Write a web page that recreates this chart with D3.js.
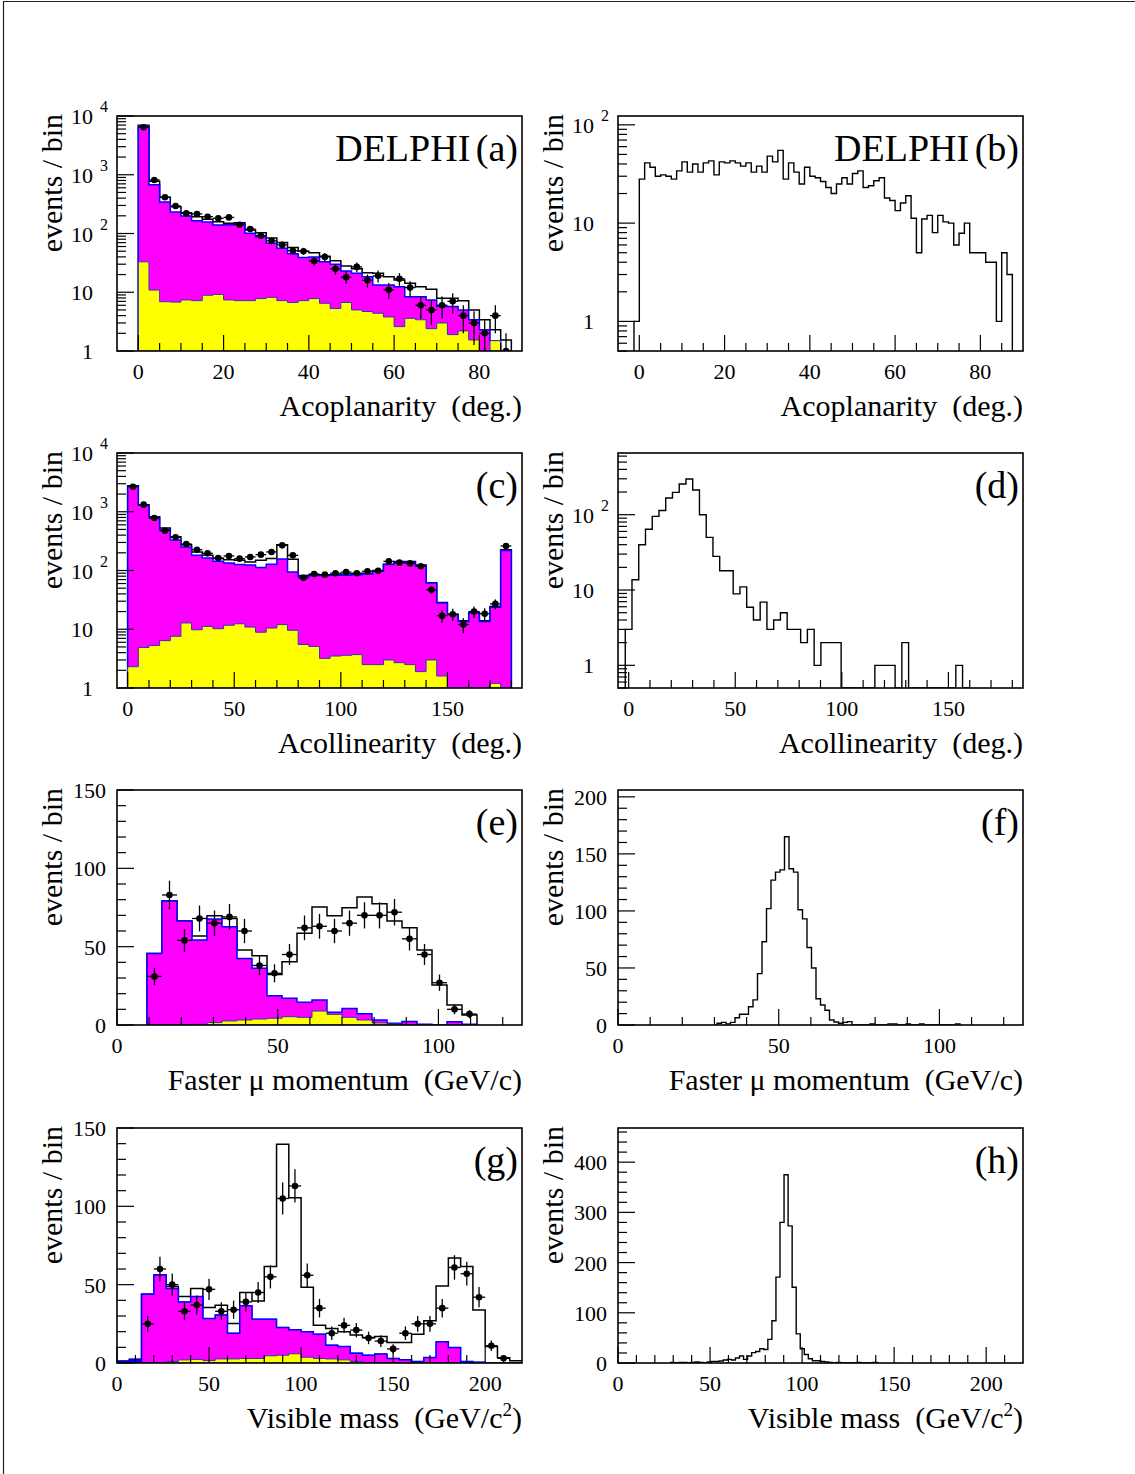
<!DOCTYPE html>
<html><head><meta charset="utf-8">
<script src="https://cdn.jsdelivr.net/npm/d3@7"></script>
<style>
body{margin:0;background:#fff;}
svg{display:block;font-family:"Liberation Serif","Times New Roman",serif;}
text{white-space:pre;}
</style></head><body>
<script>
// ================= DATA =================
// (a) Acoplanarity, 2.5 deg bins from 0
const aBinStart = 0, aBinWidth = 2.5;
const aData    = [6430, 814, 413, 294, 220, 215, 193, 181, 188, 141, 119, 92, 75, 64, 51, 50, 34, 40, 25, 18, 27, 16, 19, 11, 17, 12, 6, 5, 6, 7, 4, 3, 2, 4, 1];
const aTotal   = [6940, 773, 413, 286, 226, 193, 174, 159, 149, 153, 115, 103, 84, 70, 58, 50, 47, 41, 34.5, 28, 25, 21.5, 21, 18.4, 16.2, 14.2, 12.4, 11.2, 7.9, 7.9, 7.2, 5.0, 3.4, 2.3, 1.54];
const aMagenta = [6760, 678, 344, 232, 199, 165, 157, 140, 141, 147, 101, 88, 68, 56, 45, 39, 40, 33, 30, 23, 21, 18.4, 13.3, 13.3, 12.4, 8.4, 8.4, 7.4, 5.7, 5.7, 5.0, 3.4, 2.3, 1.5, 0];
const aYellow  = [33, 10.9, 6.9, 6.8, 7.4, 7.2, 8.9, 9.2, 7.4, 7.2, 7.2, 7.8, 8.2, 7.2, 6.7, 7.2, 7.8, 6.5, 5.3, 6.7, 5.0, 4.7, 4.4, 3.8, 2.6, 3.6, 3.4, 2.4, 3.0, 1.9, 2.2, 1.54, 1.0, 1.5, 0];
// (b) Acoplanarity, signal simulation, 1.25 deg bins from -1.25
const bBinStart = -1.25, bBinWidth = 1.25;
const bSignal = [1, 28, 41, 37, 30, 31, 30, 28, 34, 42, 33, 40, 33, 41, 43, 31, 42, 41, 43, 41, 38, 41, 33, 38, 33, 48, 42, 55, 28, 41, 33, 25, 37, 30, 29, 26.5, 23, 20, 25, 29, 25, 32, 34, 23, 24, 27, 29, 18, 17, 13.4, 16, 19, 11.2, 5, 11, 12, 8, 12, 10.3, 10, 6, 7.9, 10, 5, 5, 5, 4, 4, 1, 5, 3];
// (c) Acollinearity, 5 deg bins from 0
const cBinStart = 0, cBinWidth = 5;
const cData    = [2670, 1320, 783, 476, 367, 283, 226, 196, 163, 177, 159, 170, 186, 207, 268, 181, 75, 87, 85, 90, 94, 90, 97, 99, 143, 136, 132, 118, 47, 17, 18, 12, 20, 18.4, 27, 261];
const cTotal   = [2780, 1320, 820, 529, 377, 275, 207, 181, 160, 153, 149, 140, 150, 160, 275, 155, 82, 85, 83, 85, 87, 88, 90, 100, 128, 142, 142, 124, 62, 28.5, 18, 14, 19.5, 14, 24.5, 225];
const cMagenta = [2720, 1290, 800, 500, 330, 252, 181, 163, 143, 134, 126, 124, 113, 128, 157, 94, 79, 82, 82, 83, 83, 85, 87, 97, 126, 140, 140, 122, 61, 28, 17.7, 13.6, 18.9, 13.6, 23.6, 218];
const cYellow  = [2.3, 4.9, 5.3, 6.4, 7.6, 12.8, 9.8, 11.2, 10.2, 11.7, 12.4, 10.9, 8.9, 10.5, 12, 9.6, 5.5, 5.1, 3.2, 3.5, 3.6, 3.7, 2.5, 2.5, 3.0, 2.7, 2.5, 1.9, 3.0, 1.6, 0, 0, 0, 0, 1.2, 0];
// (d) Acollinearity, signal simulation
const dBinStart = -1.6, dBinWidth = 3.165;
const dSignal = [3, 13.7, 40, 64, 95, 114, 167, 198, 256, 298, 213, 100, 50, 28, 18, 18, 8.9, 11, 5.9, 4, 6.9, 3, 4, 5, 3, 3, 2, 3, 1, 2, 2, 2, 0, 0, 0, 0, 0, 1, 1, 1, 0, 2, 0, 0, 0, 0, 0, 0, 0, 1, 0];
// (e) Faster muon momentum, bins of 126/27 GeV starting at bin 2
const eBinWidth = 126 / 27, eBinStart = 2 * 126 / 27;
const eData    = [31, 83, 54, 68, 65, 69, 60, 38, 33, 45, 62, 63, 60, 65, 70, 70, 72, 55, 45, 27, 10, 7];
const eTotal   = [45.7, 79.1, 66.4, 56.8, 69.8, 68, 47.9, 44.2, 32.3, 40.4, 58.5, 75.3, 69.8, 74.9, 81.7, 77.4, 66.4, 62.1, 47.9, 25.5, 12.8, 6.4];
const eMagenta = [45.7, 79.1, 66.4, 54.2, 67.6, 62.7, 42.5, 36.2, 18.7, 17.0, 14.5, 16.0, 8.1, 10.6, 7.2, 3.2, 1.1, 2.3, 0.4, 0, 2, 0.5];
const eYellow  = [0, 0, 0, 0.4, 1.5, 2.6, 3.2, 3.8, 4.3, 5.3, 4.9, 8.9, 6.8, 4.9, 3.2, 1.3, 0.6, 0, 0, 0, 0, 0];
// (f) Faster muon momentum, signal, 1.4 GeV bins starting at bin 22
const fBinWidth = 1.4, fBinStart = 22 * 1.4;
const fSignal = [1.5, 2.3, 1, 2.3, 6.4, 9.4, 9.4, 16, 22, 45, 73, 102, 127, 134, 136, 165, 137, 134, 101, 93, 68, 50, 23, 17.5, 12.9, 4.4, 2.6, 1.5, 2.3, 3, 0, 0, 0, 0, 1, 0, 0, 0, 1, 1, 0, 0, 1, 0, 0, 1, 0, 0, 0, 0, 0, 0, 0, 1];
// (g) Visible mass, 220/33 GeV bins from 0
const gBinStart = 0, gBinWidth = 220 / 33;
const gData    = [null, null, 25, 60, 50, 33, 37, 47, 33, 34, 39, 45, 55, 105, 113, 56, 35, 19, 24, 21, 16, 14, 9, 19, 25, 25, 35, 61, 57, 42, 11, 3, null];
const gTotal   = [1.2, 2.4, 43.9, 56.1, 48.8, 42.4, 47.5, 35.4, 36.9, 25.2, 45, 39.5, 61.6, 139.6, 105.4, 48.4, 24.1, 22, 19.9, 17.8, 16.3, 16.9, 13.1, 13.1, 18.4, 26.9, 49.2, 67.1, 61.6, 33.9, 10.5, 3.3, 1.5];
const gOther   = [1.2, 2.4, 0, 0, 0, 0, 0, 0, 0, 0, 0, 0, 0, 0, 0, 0, 0, 0, 0, 0, 0, 0, 0, 0, 0, 0, 0, 0, 0, 0, 0, 0, 0];
const gMagenta = [0, 0, 43.9, 56.1, 47.5, 39, 42.4, 28.4, 30.7, 19, 36.5, 28, 28, 22.7, 21.2, 19.9, 18.4, 11.4, 10.5, 6.3, 5, 5.8, 2.9, 2, 1, 3.5, 13.5, 9.9, 1, 0.5, 0, 0, 0];
const gYellow  = [0, 0, 0, 0, 1, 2, 2.3, 1.5, 2.6, 2.6, 2.9, 2.9, 4.6, 5, 5.9, 3.7, 2.9, 2.6, 2, 1, 0, 0, 0, 0, 0, 0, 0, 0, 0, 0, 0, 0, 0];
// (h) Visible mass, signal, 2.2 GeV bins starting at bin 13
const hBinWidth = 2.2, hBinStart = 13 * 2.2;
const hSignal = [1, 0, 1, 1, 0, 1, 2, 1, 0, 2, 3.3, 3.3, 4, 6, 7.3, 6, 10, 14, 7.3, 14, 20.6, 23, 28.5, 27, 47, 84, 171, 280, 375, 273, 151, 58, 28.5, 17, 8.6, 4.6, 4.6, 3, 2, 1, 0, 1, 0, 0, 0, 0, 1, 0, 0, 0, 1];

// tick labels
const acopLabels = [0, 20, 40, 60, 80];
const acollLabels = [0, 50, 100, 150];
const momLabels = [0, 50, 100];
const massLabels = [0, 50, 100, 150, 200];
const log4Labels = [[1, "1", ""], [10, "10", ""], [100, "10", "2"], [1000, "10", "3"], [10000, "10", "4"]];
const log2Labels = [[1, "1", ""], [10, "10", ""], [100, "10", "2"]];
const lin150Labels = [0, 50, 100, 150];
const lin200Labels = [0, 50, 100, 150, 200];
const lin400Labels = [0, 100, 200, 300, 400];

// ================= DRAWING =================
const W = 1135, H = 1474;
const svg = d3.select('body').append('svg').attr('width', W).attr('height', H);
svg.append('rect').attr('width', W).attr('height', H).attr('fill', '#fff');
svg.append('path').attr('d', `M3.5,${H}V1.5H${W}`).attr('fill', 'none').attr('stroke', '#222').attr('stroke-width', 1.2);

const PW = 405, PH = 235;
let clipN = 0;

function logMinor(d0, d1) {
  const out = [];
  for (let e = Math.floor(Math.log10(d0)) - 1; e <= Math.ceil(Math.log10(d1)); e++) {
    for (let m = 1; m <= 9; m++) {
      const v = m * Math.pow(10, e);
      if (v >= d0 * 0.999 && v <= d1 * 1.001 && m !== 1) out.push(v);
    }
  }
  return out;
}

function panel(cfg) {
  const x0 = cfg.x0, y0 = cfg.y0, yb = y0 + PH;
  const g = svg.append('g');
  const x = d3.scaleLinear().domain(cfg.xDomain).range([x0, x0 + PW]);
  const y = (cfg.log ? d3.scaleLog() : d3.scaleLinear()).domain(cfg.yDomain).range([yb, y0]).clamp(true);
  const Y = v => (v == null || v <= cfg.yDomain[0]) ? yb : y(v);
  const id = 'clip' + (clipN++);
  svg.append('clipPath').attr('id', id).append('rect').attr('x', x0).attr('y', y0).attr('width', PW).attr('height', PH);
  const plot = g.append('g').attr('clip-path', `url(#${id})`);

  function stepD(vals, start, width) {
    let d = `M${x(start)},${yb}`;
    vals.forEach((v, i) => {
      d += `L${x(start + i * width)},${Y(v)}L${x(start + (i + 1) * width)},${Y(v)}`;
    });
    d += `L${x(start + vals.length * width)},${yb}`;
    return d;
  }

  const h = cfg.hist;
  if (h.total) {
    plot.append('path').attr('d', stepD(h.total, h.start, h.width)).attr('fill', 'none').attr('stroke', '#000').attr('stroke-width', 1.5);
  }
  if (h.other) {
    const cum = h.magenta.map((v, i) => v + h.other[i]);
    plot.append('path').attr('d', stepD(cum, h.start, h.width) + 'Z').attr('fill', '#0000ff').attr('stroke', '#0000ff').attr('stroke-width', 1);
  }
  if (h.magenta) {
    plot.append('path').attr('d', stepD(h.magenta, h.start, h.width) + 'Z').attr('fill', '#ff00ff').attr('stroke', '#0000ff').attr('stroke-width', 1.5);
  }
  if (h.yellow) {
    plot.append('path').attr('d', stepD(h.yellow, h.start, h.width) + 'Z').attr('fill', '#ffff00').attr('stroke', '#3030c0').attr('stroke-width', 1);
  }
  if (h.signal) {
    plot.append('path').attr('d', stepD(h.signal, h.start, h.width)).attr('fill', 'none').attr('stroke', '#000').attr('stroke-width', 1.4);
  }
  if (h.data) {
    const pts = h.data.map((v, i) => ({ v, i })).filter(p => p.v != null && p.v > 0);
    const dg = plot.append('g');
    pts.forEach(p => {
      const xa = x(h.start + p.i * h.width), xbb = x(h.start + (p.i + 1) * h.width), xc = (xa + xbb) / 2;
      const e = Math.sqrt(p.v);
      dg.append('line').attr('x1', xc).attr('x2', xc).attr('y1', Y(p.v - e)).attr('y2', Y(p.v + e)).attr('stroke', '#000').attr('stroke-width', 1.3);
      dg.append('line').attr('x1', xa).attr('x2', xbb).attr('y1', Y(p.v)).attr('y2', Y(p.v)).attr('stroke', '#000').attr('stroke-width', 1.3);
      dg.append('circle').attr('cx', xc).attr('cy', Y(p.v)).attr('r', 3.3).attr('fill', '#000');
    });
  }

  // frame
  g.append('rect').attr('x', x0).attr('y', y0).attr('width', PW).attr('height', PH).attr('fill', 'none').attr('stroke', '#000').attr('stroke-width', 1.6);

  // ticks
  const tk = g.append('g').attr('stroke', '#000').attr('stroke-width', 1.2);
  cfg.yMajor.forEach(v => tk.append('line').attr('x1', x0).attr('x2', x0 + 17).attr('y1', Y(v)).attr('y2', Y(v)));
  cfg.yMinor.forEach(v => tk.append('line').attr('x1', x0).attr('x2', x0 + 9).attr('y1', Y(v)).attr('y2', Y(v)));
  cfg.xMajor.forEach(v => tk.append('line').attr('x1', x(v)).attr('x2', x(v)).attr('y1', yb).attr('y2', yb - 16));
  cfg.xMinor.forEach(v => tk.append('line').attr('x1', x(v)).attr('x2', x(v)).attr('y1', yb).attr('y2', yb - 8));

  // y labels
  if (cfg.log) {
    cfg.yLabels.forEach(([v, base, ex]) => {
      g.append('text').attr('x', x0 - 24).attr('y', Y(v) + 8).attr('text-anchor', 'end').attr('font-size', 22).text(base);
      if (ex) g.append('text').attr('x', x0 - 17).attr('y', Y(v) - 4).attr('font-size', 16).text(ex);
    });
  } else {
    cfg.yLabels.forEach(v => {
      g.append('text').attr('x', x0 - 11).attr('y', Y(v) + 8).attr('text-anchor', 'end').attr('font-size', 22).text(v);
    });
  }
  // x labels
  cfg.xLabels.forEach(v => {
    g.append('text').attr('x', x(v)).attr('y', yb + 28).attr('text-anchor', 'middle').attr('font-size', 22).text(v);
  });
  // titles
  const xt = g.append('text').attr('x', x0 + PW).attr('y', yb + 65).attr('text-anchor', 'end').attr('font-size', 30);
  cfg.xTitle.forEach(part => {
    const ts = xt.append('tspan').text(part.t);
    if (part.sup) ts.attr('dy', -12).attr('font-size', 19);
    if (part.down) ts.attr('dy', 12);
  });
  g.append('text').attr('transform', `translate(${x0 - 55},${y0 - 2}) rotate(-90)`).attr('text-anchor', 'end').attr('font-size', 30).text('events / bin');
  g.append('text').attr('x', x0 + PW - 4).attr('y', y0 + 45).attr('text-anchor', 'end').attr('font-size', 38).attr('word-spacing', -4).text(cfg.label);
}

const LX = 117, RX = 618, R1 = 116, R2 = 453, R3 = 790, R4 = 1128;
const acopTitle = [{ t: 'Acoplanarity  (deg.)' }];
const acollTitle = [{ t: 'Acollinearity  (deg.)' }];
const momTitle = [{ t: 'Faster \u03bc momentum  (GeV/c)' }];
const massTitle = [{ t: 'Visible mass  (GeV/c' }, { t: '2', sup: true }, { t: ')', down: true }];

const without = (arr, ex) => arr.filter(v => !ex.includes(v));

panel({ x0: LX, y0: R1, xDomain: [-5, 90], yDomain: [1, 10000], log: true,
  hist: { start: aBinStart, width: aBinWidth, total: aTotal, magenta: aMagenta, yellow: aYellow, data: aData },
  yMajor: [1, 10, 100, 1000, 10000], yMinor: logMinor(1, 10000), yLabels: log4Labels,
  xMajor: acopLabels, xMinor: without(d3.range(5, 90, 5), acopLabels), xLabels: acopLabels,
  xTitle: acopTitle, label: 'DELPHI (a)' });

panel({ x0: RX, y0: R1, xDomain: [-5, 90], yDomain: [0.5, 123], log: true,
  hist: { start: bBinStart, width: bBinWidth, signal: bSignal },
  yMajor: [1, 10, 100], yMinor: logMinor(0.5, 120), yLabels: log2Labels,
  xMajor: acopLabels, xMinor: without(d3.range(5, 90, 5), acopLabels), xLabels: acopLabels,
  xTitle: acopTitle, label: 'DELPHI (b)' });

panel({ x0: LX, y0: R2, xDomain: [-5, 185], yDomain: [1, 10000], log: true,
  hist: { start: cBinStart, width: cBinWidth, total: cTotal, magenta: cMagenta, yellow: cYellow, data: cData },
  yMajor: [1, 10, 100, 1000, 10000], yMinor: logMinor(1, 10000), yLabels: log4Labels,
  xMajor: acollLabels, xMinor: without(d3.range(10, 185, 10), acollLabels), xLabels: acollLabels,
  xTitle: acollTitle, label: '(c)' });

panel({ x0: RX, y0: R2, xDomain: [-5, 185], yDomain: [0.5, 660], log: true,
  hist: { start: dBinStart, width: dBinWidth, signal: dSignal },
  yMajor: [1, 10, 100], yMinor: logMinor(0.5, 650), yLabels: log2Labels,
  xMajor: acollLabels, xMinor: without(d3.range(10, 185, 10), acollLabels), xLabels: acollLabels,
  xTitle: acollTitle, label: '(d)' });

panel({ x0: LX, y0: R3, xDomain: [0, 126], yDomain: [0, 150], log: false,
  hist: { start: eBinStart, width: eBinWidth, total: eTotal, magenta: eMagenta, yellow: eYellow, data: eData },
  yMajor: lin150Labels, yMinor: without(d3.range(10, 150, 10), lin150Labels), yLabels: lin150Labels,
  xMajor: momLabels, xMinor: without(d3.range(10, 126, 10), momLabels), xLabels: momLabels,
  xTitle: momTitle, label: '(e)' });

panel({ x0: RX, y0: R3, xDomain: [0, 126], yDomain: [0, 206], log: false,
  hist: { start: fBinStart, width: fBinWidth, signal: fSignal },
  yMajor: lin200Labels, yMinor: without(d3.range(10, 206, 10), lin200Labels), yLabels: lin200Labels,
  xMajor: momLabels, xMinor: without(d3.range(10, 126, 10), momLabels), xLabels: momLabels,
  xTitle: momTitle, label: '(f)' });

panel({ x0: LX, y0: R4, xDomain: [0, 220], yDomain: [0, 150], log: false,
  hist: { start: gBinStart, width: gBinWidth, total: gTotal, other: gOther, magenta: gMagenta, yellow: gYellow, data: gData },
  yMajor: lin150Labels, yMinor: without(d3.range(10, 150, 10), lin150Labels), yLabels: lin150Labels,
  xMajor: massLabels, xMinor: without(d3.range(10, 220, 10), massLabels), xLabels: massLabels,
  xTitle: massTitle, label: '(g)' });

panel({ x0: RX, y0: R4, xDomain: [0, 220], yDomain: [0, 468], log: false,
  hist: { start: hBinStart, width: hBinWidth, signal: hSignal },
  yMajor: lin400Labels, yMinor: without(d3.range(20, 468, 20), lin400Labels), yLabels: lin400Labels,
  xMajor: massLabels, xMinor: without(d3.range(10, 220, 10), massLabels), xLabels: massLabels,
  xTitle: massTitle, label: '(h)' });
</script>
</body></html>
